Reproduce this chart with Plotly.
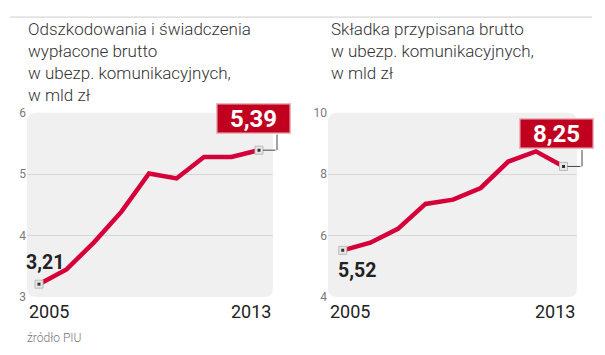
import plotly.graph_objects as go

years = [2005, 2006, 2007, 2008, 2009, 2010, 2011, 2012, 2013]
claims = [3.21, 3.45, 3.89, 4.39, 5.01, 4.93, 5.28, 5.28, 5.39]
premium = [5.52, 5.77, 6.22, 7.03, 7.17, 7.55, 8.41, 8.74, 8.25]
claims_ticks = [3, 4, 5, 6]
premium_ticks = [4, 6, 8, 10]
x_labels = ["2005", "2013"]
title_left = "Odszkodowania i świadczenia<br>wypłacone brutto<br>w ubezp. komunikacyjnych,<br>w mld zł"
title_right = "Składka przypisana brutto<br>w ubezp. komunikacyjnych,<br>w mld zł"
source = "źródło PIU"

LINE = "#d5003a"
BOX = "#c1001f"
FONT = "Roboto"

fig = go.Figure()

panels = [
    dict(y=claims, xa="x", ya="y", dom=[27/605, 273/605], xr=[2004.564, 2013.509], yr=[3, 6], ticks=claims_ticks,
         title=title_left, tx=26/605),
    dict(y=premium, xa="x2", ya="y2", dom=[328/605, 577/605], xr=[2004.467, 2013.489], yr=[4, 10], ticks=premium_ticks,
         title=title_right, tx=329/605),
]

ydom = [53/355, 245/355]


def rounded(wpx, hpx, r=9):
    rx, ry = r / wpx, r / hpx
    return (f"M {rx},0 L {1-rx},0 Q 1,0 1,{ry} L 1,{1-ry} Q 1,1 {1-rx},1 "
            f"L {rx},1 Q 0,1 0,{1-ry} L 0,{ry} Q 0,0 {rx},0 Z")


for i, p in enumerate(panels):
    sfx = "" if i == 0 else "2"
    wpx = (p["dom"][1] - p["dom"][0]) * 605
    fig.add_shape(type="path", xref=f"x{sfx} domain", yref=f"y{sfx} domain", path=rounded(wpx, 192),
                  fillcolor="#f0f0f0", line=dict(width=0), layer="below")
    fig.add_trace(go.Scatter(x=years, y=p["y"], mode="lines", line=dict(color=LINE, width=4.5),
                             xaxis=p["xa"], yaxis=p["ya"], hoverinfo="skip", showlegend=False))
    ends_x = [years[0], years[-1]]
    ends_y = [p["y"][0], p["y"][-1]]
    fig.add_trace(go.Scatter(x=ends_x, y=ends_y, mode="markers",
                             marker=dict(symbol="square", size=8, color="#e6e6e6", line=dict(color="#bbbbbb", width=1)),
                             xaxis=p["xa"], yaxis=p["ya"], hoverinfo="skip", showlegend=False))
    fig.add_trace(go.Scatter(x=ends_x, y=ends_y, mode="markers",
                             marker=dict(symbol="square", size=3, color="#333333"),
                             xaxis=p["xa"], yaxis=p["ya"], hoverinfo="skip", showlegend=False))
    layout_x = dict(domain=p["dom"], range=p["xr"], showgrid=False, zeroline=False, showticklabels=False,
                    showline=False, fixedrange=True, anchor=p["ya"])
    layout_y = dict(domain=ydom, range=p["yr"], tickvals=p["ticks"], showgrid=True, gridcolor="#d6d6d6",
                    gridwidth=1, zeroline=False, showline=False, ticks="", anchor=p["xa"],
                    tickfont=dict(family=FONT, size=12, color="#7a7a7a"), fixedrange=True)
    if i == 0:
        fig.update_layout(xaxis=layout_x, yaxis=layout_y)
    else:
        fig.update_layout(xaxis2=layout_x, yaxis2=layout_y)

    fig.add_annotation(text=p["title"], xref="paper", yref="paper", x=p["tx"], y=1 - 10/355,
                       xanchor="left", yanchor="top", align="left", showarrow=False,
                       font=dict(family=FONT, size=17, color="#333333", weight=300))
    fig.add_annotation(text=x_labels[0], xref=p["xa"], yref="paper", x=p["xr"][0], y=ydom[0] - 2/355,
                       xanchor="left", yanchor="top", showarrow=False,
                       font=dict(family=FONT, size=18, color="#222222"))
    fig.add_annotation(text=x_labels[1], xref=p["xa"], yref="paper", x=p["xr"][1], y=ydom[0] - 2/355,
                       xanchor="right", yanchor="top", showarrow=False,
                       font=dict(family=FONT, size=18, color="#222222"))
    fig.add_annotation(text=f"{p['y'][0]:.2f}".replace(".", ","), xref=p["xa"], yref=p["ya"],
                       x=years[0], y=p["y"][0], xanchor="left", yanchor="middle", showarrow=False,
                       xshift=(-15 if i == 0 else -7), yshift=(22 if i == 0 else -20),
                       font=dict(family=FONT, size=19.5, color="#222222", weight="bold"))
    fig.add_annotation(text=f"{p['y'][-1]:.2f}".replace(".", ","), xref=p["xa"], yref=p["ya"],
                       x=years[-1], y=p["y"][-1], showarrow=False,
                       xshift=(-6 if i == 0 else -7), yshift=(32 if i == 0 else 32.5),
                       width=70, height=26, bgcolor=BOX, bordercolor="#eab7c0", borderwidth=1.5, borderpad=1,
                       font=dict(family=FONT, size=24, color="white", weight="bold"))
    # elbow connector: horizontal then vertical, via arrow-only annotations (not clipped)
    dx = 18 if i == 0 else 18.5
    dy = 17 if i == 0 else 18
    fig.add_annotation(text="", xref=p["xa"], yref=p["ya"], x=years[-1], y=p["y"][-1],
                       ax=dx, ay=0, showarrow=True, arrowhead=0, arrowwidth=1, arrowcolor="#444444",
                       standoff=4, startstandoff=0)
    fig.add_annotation(text="", xref=p["xa"], yref=p["ya"], x=years[-1], y=p["y"][-1], xshift=dx,
                       ax=0, ay=-dy, showarrow=True, arrowhead=0, arrowwidth=1, arrowcolor="#444444",
                       standoff=0, startstandoff=0)

fig.add_shape(type="line", xref="paper", yref="paper", x0=10/605, x1=592/605, y0=1 - 10.5/355, y1=1 - 10.5/355,
              line=dict(color="#cccccc", width=1))

fig.add_annotation(text=source, xref="paper", yref="paper", x=25/605, y=1 - 345/355, xanchor="left",
                   yanchor="middle", showarrow=False, font=dict(family=FONT, size=12, color="#777777", weight=300))

fig.update_layout(width=605, height=355, margin=dict(l=0, r=0, t=0, b=0),
                  paper_bgcolor="white", plot_bgcolor="rgba(0,0,0,0)", showlegend=False)

fig.write_html("out.html", config={"displayModeBar": False, "staticPlot": True},
               post_script="document.body.style.margin='0';document.body.style.overflow='hidden';")
